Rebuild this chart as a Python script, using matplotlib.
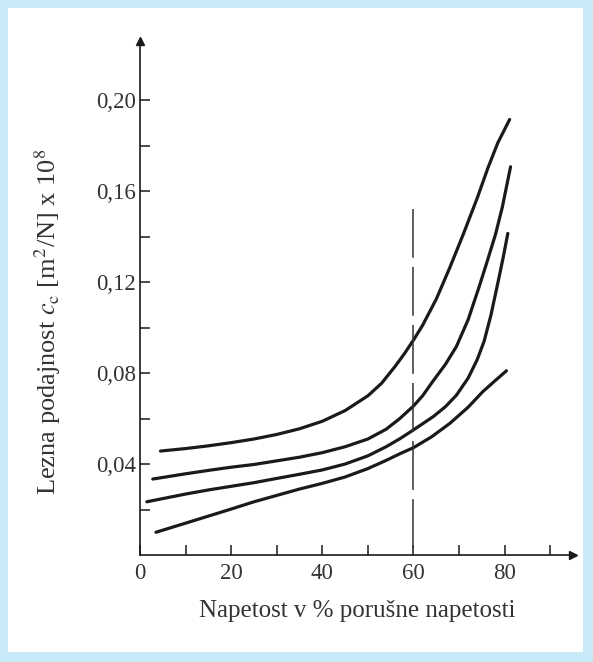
import matplotlib.pyplot as plt
from matplotlib.patches import Rectangle
from matplotlib.ticker import FixedLocator, FuncFormatter

plt.rcParams["font.family"] = ["Liberation Serif", "DejaVu Serif"]
plt.rcParams["mathtext.fontset"] = "stix"

# vrednosti odčitane s slike
x_a = [4.5, 10, 15, 20, 25, 30, 35, 40, 45, 50, 53, 56, 58, 60, 62, 65, 68, 71, 74, 76.3, 78.5, 81.1]
y_a = [0.0457, 0.0468, 0.0480, 0.0494, 0.0510, 0.0530, 0.0555, 0.0588, 0.0635, 0.0700, 0.0755,
       0.0830, 0.0885, 0.0945, 0.1010, 0.1125, 0.1265, 0.1414, 0.1570, 0.1700, 0.1812, 0.1915]

x_b = [2.8, 10, 15, 20, 25, 30, 35, 40, 45, 50, 54, 57, 60, 62, 64.3, 67, 69.4, 72, 74.5, 76, 78, 79.5, 81.3]
y_b = [0.0334, 0.0357, 0.0372, 0.0386, 0.0398, 0.0414, 0.0430, 0.0450, 0.0476, 0.0510, 0.0553, 0.0600,
       0.0655, 0.0700, 0.0765, 0.0838, 0.0916, 0.1035, 0.1185, 0.1280, 0.1410, 0.1530, 0.1707]

x_c = [1.5, 10, 15, 20, 25, 29, 35, 40, 45, 50, 54, 57, 60, 64.3, 67, 69.4, 72, 74, 75.5, 77, 78.5, 79.7, 80.7]
y_c = [0.0234, 0.0268, 0.0286, 0.0302, 0.0318, 0.0333, 0.0355, 0.0374, 0.0400, 0.0436, 0.0476, 0.0511,
       0.0550, 0.0608, 0.0652, 0.0702, 0.0778, 0.0860, 0.0940, 0.1055, 0.1195, 0.1310, 0.1414]

x_d = [3.5, 10, 15, 20, 25, 30, 35, 40, 45, 50, 54, 57, 60, 64, 68, 72, 75.2, 78, 80.4]
y_d = [0.0100, 0.0140, 0.0171, 0.0202, 0.0234, 0.0262, 0.0290, 0.0315, 0.0343, 0.0380, 0.0416,
       0.0445, 0.0472, 0.0520, 0.0579, 0.0650, 0.0718, 0.0768, 0.0810]

meja_x = 60
meja_y = 0.152

x_major = [0, 20, 40, 60, 80]
x_minor = [10, 30, 50, 70, 90]
y_major = [0.04, 0.08, 0.12, 0.16, 0.20]
y_minor = [0.02, 0.06, 0.10, 0.14, 0.18]

W, H = 593, 662
fig = plt.figure(figsize=(W / 100, H / 100), dpi=100)
fig.patch.set_facecolor("#C8EAF9")
fig.patches.append(Rectangle((8 / W, 10 / H), 575 / W, 644 / H, transform=fig.transFigure,
                             facecolor="white", edgecolor="none", zorder=-10))

ax = fig.add_axes([140 / W, (H - 555) / H, 433 / W, 514 / H])
ax.set_facecolor("none")
ax.set_xlim(0, 95)
ax.set_ylim(0, 0.226)

ink = "#1a1a1a"
for xs, ys in [(x_a, y_a), (x_b, y_b), (x_c, y_c), (x_d, y_d)]:
    ax.plot(xs, ys, color=ink, lw=2.3, solid_capstyle="round", solid_joinstyle="round")

ax.plot([meja_x, meja_x], [0.003, meja_y], color="#333333", lw=1.1, dashes=(32, 6))

for s in ["top", "right"]:
    ax.spines[s].set_visible(False)
for s in ["left", "bottom"]:
    ax.spines[s].set_linewidth(1.2)
    ax.spines[s].set_color(ink)

# puščici na koncu osi
ax.plot(1, 0, ">", color=ink, ms=6, transform=ax.transAxes, clip_on=False)
ax.plot(0, 1, "^", color=ink, ms=6, transform=ax.transAxes, clip_on=False)

ax.xaxis.set_major_locator(FixedLocator(x_major))
ax.xaxis.set_minor_locator(FixedLocator(x_minor))
ax.yaxis.set_major_locator(FixedLocator(y_major))
ax.yaxis.set_minor_locator(FixedLocator(y_minor))
ax.yaxis.set_major_formatter(FuncFormatter(lambda v, p: f"{v:.2f}".replace(".", ",")))
ax.tick_params(which="both", direction="in", length=7, width=1.1, color=ink)
ax.tick_params(axis="x", labelsize=16.5, pad=6, labelcolor="#333333")
ax.tick_params(axis="y", labelsize=16.5, pad=3, labelcolor="#333333")

fig.text(357 / W, 1 - 611 / H, "Napetost v % porušne napetosti", fontsize=18,
         color="#333333", ha="center", va="center")
fig.text(48 / W, 1 - 322 / H, r"Lezna podajnost $c_\mathrm{c}$ [m$^2$/N] x 10$^8$", fontsize=19,
         color="#333333", ha="center", va="center", rotation=90)

fig.savefig("out.png", dpi=100, facecolor=fig.get_facecolor())
